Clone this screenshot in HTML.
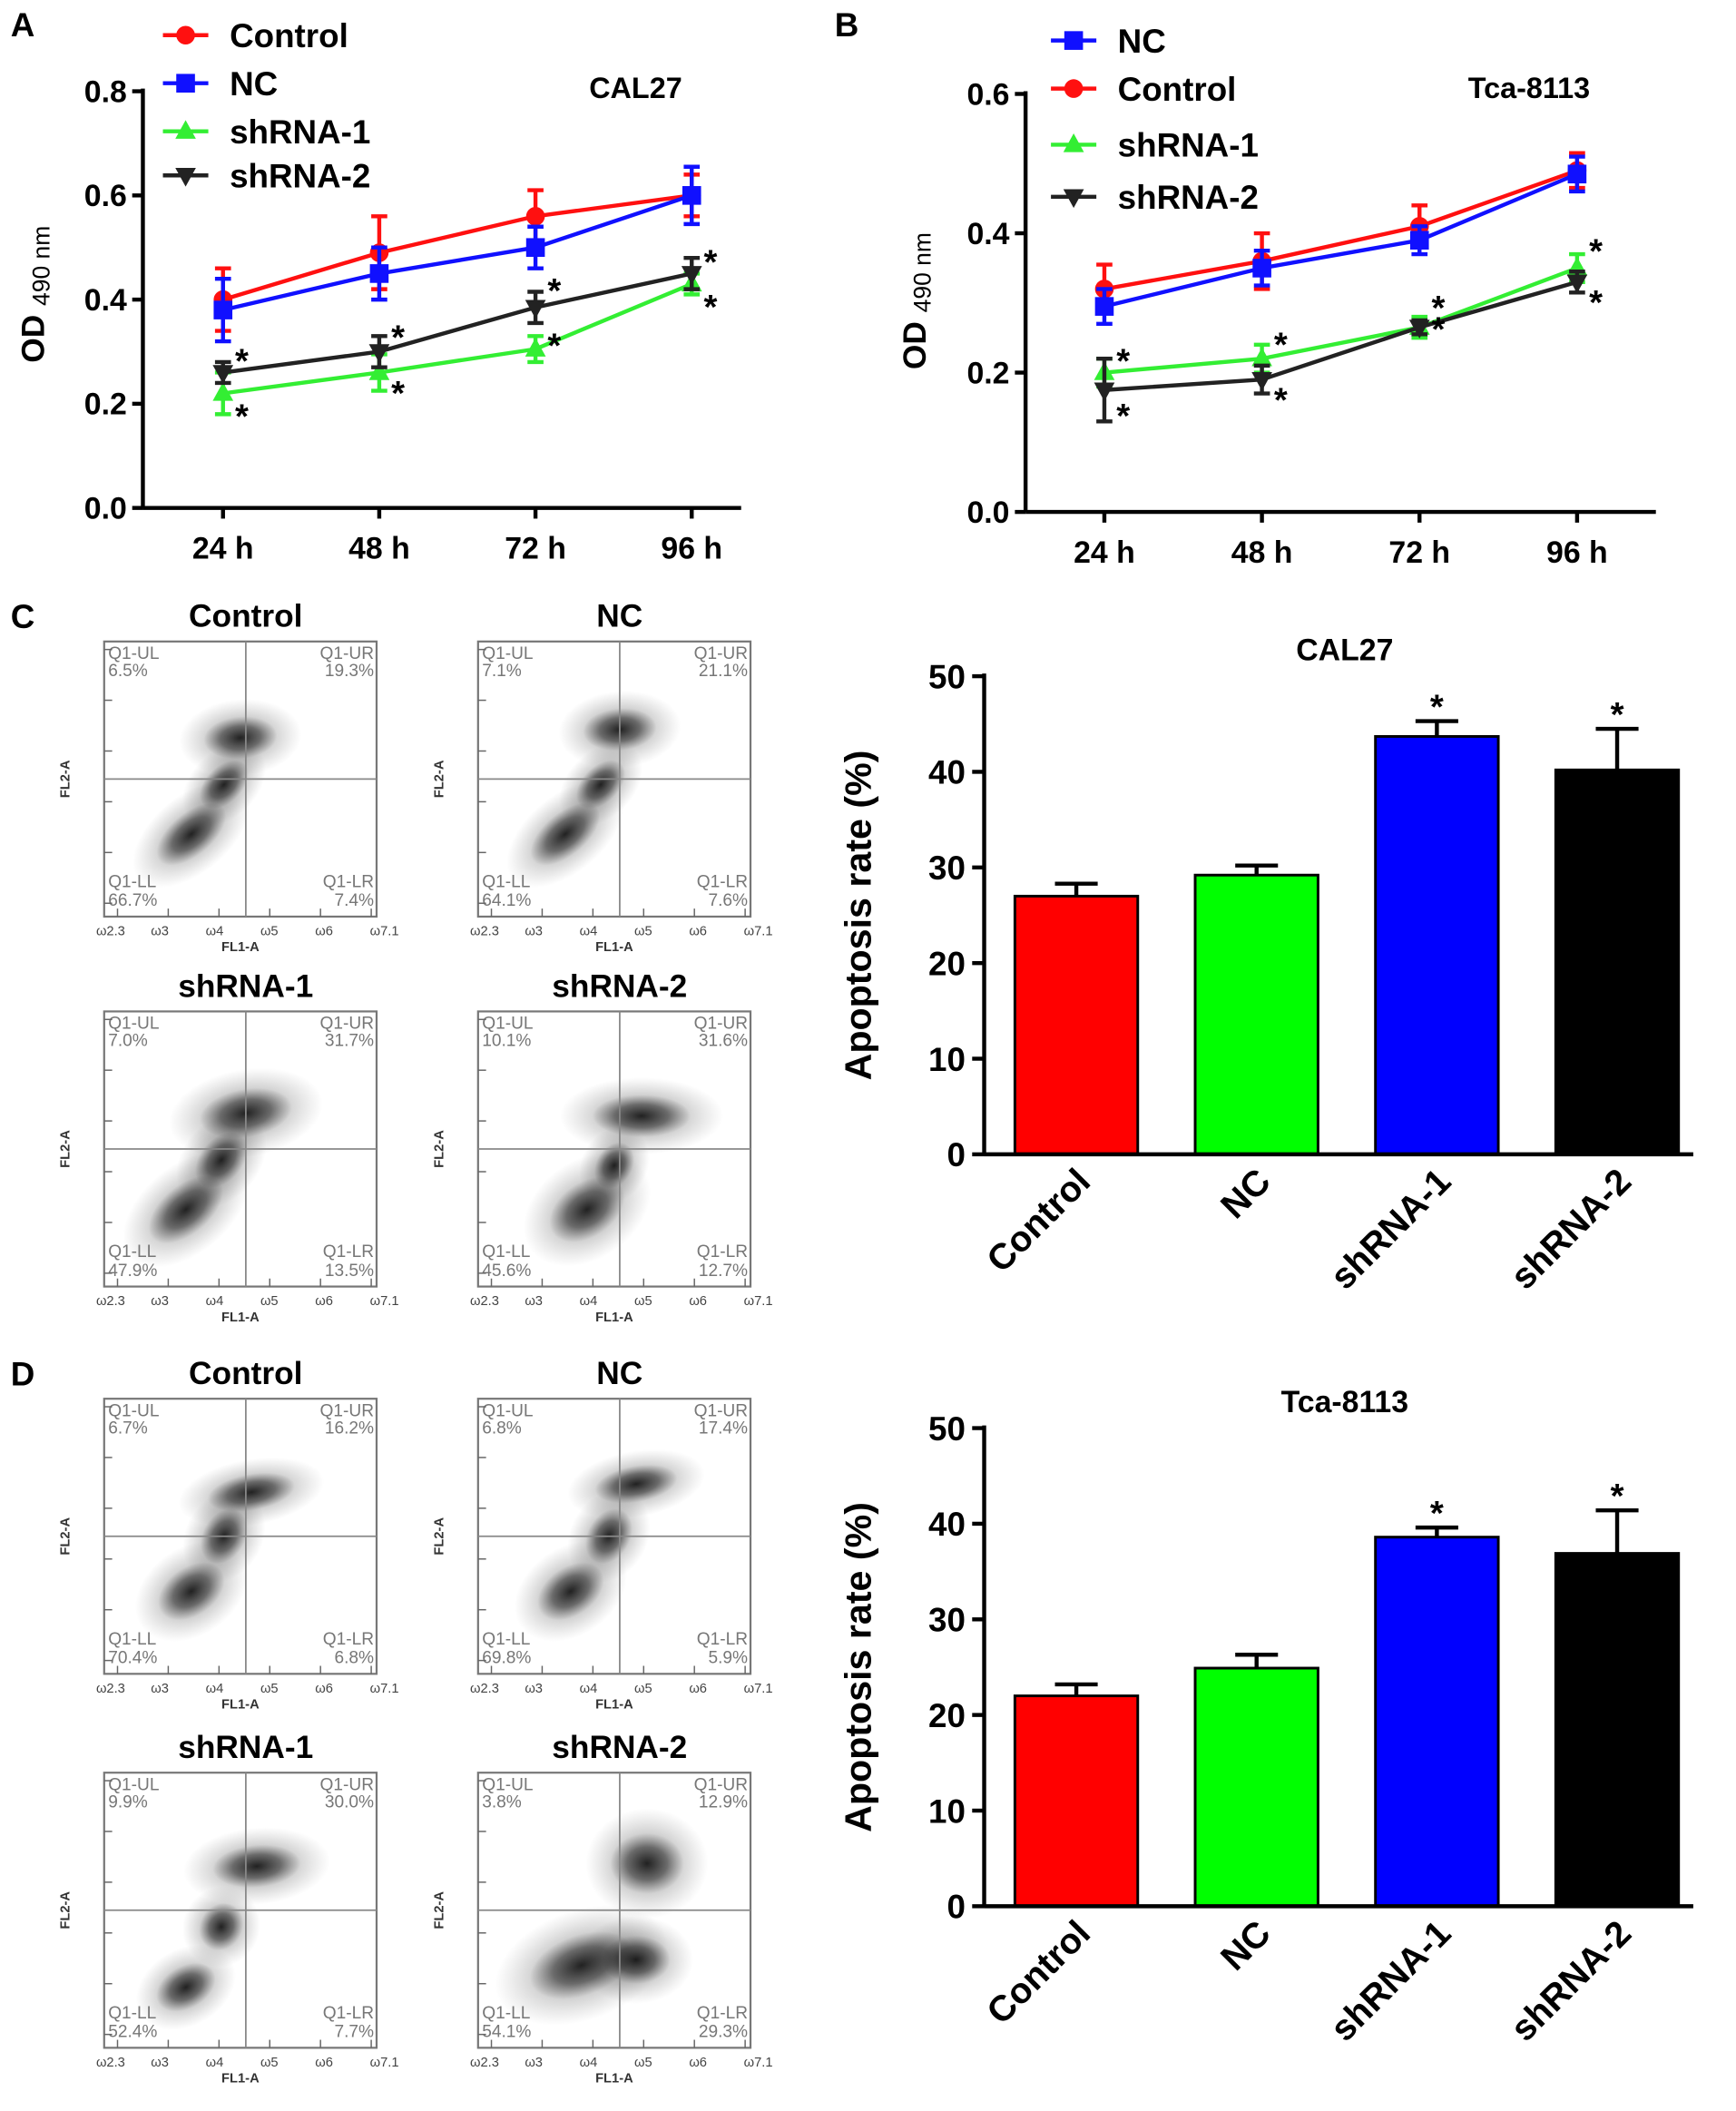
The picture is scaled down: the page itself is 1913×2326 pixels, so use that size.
<!DOCTYPE html>
<html><head><meta charset="utf-8"><style>
html,body{margin:0;padding:0;background:#fff}
svg{display:block}
text{font-family:"Liberation Sans",Arial,sans-serif;font-weight:bold}
</style></head><body>
<svg id="fig" width="1913" height="2326" viewBox="0 0 1300 1580" xmlns="http://www.w3.org/2000/svg">
<rect width="1300" height="1580" fill="#fff"/>
</svg>
<script>
// ---------- DATA ----------
const timeCats = ["24 h","48 h","72 h","96 h"];
const aSeriesNames = ["Control","NC","shRNA-1","shRNA-2"];
const aControl = [0.40,0.49,0.56,0.60];
const aControlErr = [0.06,0.07,0.05,0.04];
const aNC = [0.38,0.45,0.50,0.60];
const aNCErr = [0.06,0.05,0.04,0.055];
const aSh1 = [0.22,0.26,0.305,0.43];
const aSh1Err = [0.04,0.035,0.025,0.02];
const aSh2 = [0.26,0.30,0.385,0.45];
const aSh2Err = [0.02,0.03,0.03,0.03];
const aTicks = [0.0,0.2,0.4,0.6,0.8];

const bSeriesNames = ["NC","Control","shRNA-1","shRNA-2"];
const bNC = [0.295,0.35,0.39,0.485];
const bNCErr = [0.025,0.025,0.02,0.025];
const bControl = [0.32,0.36,0.41,0.49];
const bControlErr = [0.035,0.04,0.03,0.025];
const bSh1 = [0.20,0.22,0.265,0.35];
const bSh1Err = [0.02,0.02,0.015,0.02];
const bSh2 = [0.175,0.19,0.265,0.33];
const bSh2Err = [0.045,0.02,0.01,0.015];
const bTicks = [0.0,0.2,0.4,0.6];

const barCats = ["Control","NC","shRNA-1","shRNA-2"];
const cValues = [27.0,29.2,43.7,40.2];
const cErrs = [1.3,1.0,1.6,4.3];
const dValues = [22.0,24.9,38.6,36.9];
const dErrs = [1.2,1.4,1.0,4.5];
const barTicks = [0,10,20,30,40,50];

const flowC = [["Control","6.5%","19.3%","66.7%","7.4%"],["NC","7.1%","21.1%","64.1%","7.6%"],["shRNA-1","7.0%","31.7%","47.9%","13.5%"],["shRNA-2","10.1%","31.6%","45.6%","12.7%"]];
const flowD = [["Control","6.7%","16.2%","70.4%","6.8%"],["NC","6.8%","17.4%","69.8%","5.9%"],["shRNA-1","9.9%","30.0%","52.4%","7.7%"],["shRNA-2","3.8%","12.9%","54.1%","29.3%"]];

// ---------- HELPERS ----------
const NS="http://www.w3.org/2000/svg";
const svg=document.getElementById('fig');
function mk(tag,attrs,parent){const e=document.createElementNS(NS,tag);for(const k in attrs)e.setAttribute(k,attrs[k]);(parent||svg).appendChild(e);return e;}
function txt(s,attrs,parent){const e=mk('text',attrs,parent);e.textContent=s;return e;}
const colors={"Control":"#ff1010","NC":"#1010ff","shRNA-1":"#33ee33","shRNA-2":"#222"};

function marker(g,name,x,y,s){
  const c=colors[name];let m;
  if(name==="Control") m=mk('circle',{cx:x,cy:y,r:s,fill:c},g);
  else if(name==="NC") m=mk('rect',{x:x-s,y:y-s,width:2*s,height:2*s,fill:c},g);
  else if(name==="shRNA-1") m=mk('polygon',{points:`${x},${y-s*1.2} ${x-s*1.1},${y+s*0.8} ${x+s*1.1},${y+s*0.8}`,fill:c},g);
  else m=mk('polygon',{points:`${x},${y+s*1.2} ${x-s*1.1},${y-s*0.8} ${x+s*1.1},${y-s*0.8}`,fill:c},g);
  return m;
}

function lineChart(o){
  const g=mk('g',{});
  
  
  const y=v=>o.y0-(v/o.ymax)*(o.y0-o.y1);
  const x=i=>o.xs[0]+i*(o.xs[1]-o.xs[0]);
  mk('line',{x1:o.ax,y1:o.y1-2,x2:o.ax,y2:o.y0,stroke:'#000','stroke-width':3},g);
  mk('line',{x1:o.ax,y1:o.y0,x2:o.xend,y2:o.y0,stroke:'#000','stroke-width':3},g);
  o.ticks.forEach(t=>{
    mk('line',{x1:o.ax-8,y1:y(t),x2:o.ax,y2:y(t),stroke:'#000','stroke-width':3},g);
    const l=txt(t.toFixed(1),{x:o.ax-12,y:y(t)+8,'font-size':23,'text-anchor':'end'},g);
    
  });
  timeCats.forEach((c,i)=>{
    mk('line',{x1:x(i),y1:o.y0,x2:x(i),y2:o.y0+8,stroke:'#000','stroke-width':3},g);
    const l=txt(c,{x:x(i),y:o.y0+38,'font-size':23,'text-anchor':'middle'},g);
    
  });
  const t=txt('OD ',{x:0,y:0,'font-size':24,transform:`translate(${o.ytx},${o.yty}) rotate(-90)`,'text-anchor':'middle'},g);
  const ts=mk('tspan',{'font-size':18,'font-weight':'normal',dy:4},t);ts.textContent='490 nm';
  
  const tt=txt(o.title,{x:o.tx,y:o.ty,'font-size':22,'text-anchor':'middle'},g);
  
  o.series.forEach(s=>{
    const c=colors[s.name];
    const sg=mk('g',{},g);
    
    
    mk('polyline',{points:s.v.map((v,i)=>`${x(i)},${y(v)}`).join(' '),fill:'none',stroke:c,'stroke-width':3},sg);
    s.v.forEach((v,i)=>{
      const e=s.e[i];
      mk('line',{x1:x(i),y1:y(v+e),x2:x(i),y2:y(v-e),stroke:c,'stroke-width':3},sg);
      mk('line',{x1:x(i)-6,y1:y(v+e),x2:x(i)+6,y2:y(v+e),stroke:c,'stroke-width':3},sg);
      mk('line',{x1:x(i)-6,y1:y(v-e),x2:x(i)+6,y2:y(v-e),stroke:c,'stroke-width':3},sg);
      const m=marker(sg,s.name,x(i),y(v),7);
      
      if(s.star){const st=txt('*',{x:x(i)+9,y:y(v)+s.star[i]+14,'font-size':26},sg);
        }
    });
  });
  o.legend.forEach((n,i)=>{
    const lg=mk('g',{},g);
    
    const ly=o.ly[i];
    mk('line',{x1:o.lx,y1:ly,x2:o.lx+34,y2:ly,stroke:colors[n],'stroke-width':3},lg);
    marker(lg,n,o.lx+17,ly,7);
    txt(n,{x:o.lx+50,y:ly+9,'font-size':25},lg);
  });
}

lineChart({name:'panel-a-chart',ax:107,xend:555,y0:380,y1:68,ymax:0.8,xs:[167,284],ticks:aTicks,ytx:33,yty:220,title:'CAL27',tx:476,ty:73,
  series:[{name:'Control',v:aControl,e:aControlErr},{name:'NC',v:aNC,e:aNCErr},
    {name:'shRNA-1',v:aSh1,e:aSh1Err,star:[12,10,-8,12]},{name:'shRNA-2',v:aSh2,e:aSh2Err,star:[-14,-16,-18,-14]}],
  legend:aSeriesNames,lx:122,ly:[26,62,98,131]});
lineChart({name:'panel-b-chart',ax:768,xend:1240,y0:383,y1:70,ymax:0.6,xs:[827,945],ticks:bTicks,ytx:693,yty:225,title:'Tca-8113',tx:1145,ty:73,
  series:[{name:'Control',v:bControl,e:bControlErr},{name:'NC',v:bNC,e:bNCErr},
    {name:'shRNA-1',v:bSh1,e:bSh1Err,star:[-14,-16,-20,-18]},{name:'shRNA-2',v:bSh2,e:bSh2Err,star:[14,10,-4,10]}],
  legend:bSeriesNames,lx:787,ly:[30,66,108,147]});

function barChart(o){
  const g=mk('g',{});
  
  const y=v=>o.y0-(v/50)*(o.y0-o.y1);
  const fills=["#ff0000","#00ff00","#0000ff","#000000"];
  o.vals.forEach((v,i)=>{
    const cx=o.x0+i*o.step, w=92;
    const eb=mk('g',{},g);
    mk('line',{x1:cx,y1:y(v),x2:cx,y2:y(v+o.errs[i]),stroke:'#000','stroke-width':3},eb);
    mk('line',{x1:cx-16,y1:y(v+o.errs[i]),x2:cx+16,y2:y(v+o.errs[i]),stroke:'#000','stroke-width':3},eb);
    const b=mk('rect',{x:cx-w/2,y:y(v),width:w,height:o.y0-y(v),fill:fills[i],stroke:'#000','stroke-width':2},g);
    
    if(i>=2){const st=txt('*',{x:cx,y:y(v+o.errs[i])-2,'font-size':26,'text-anchor':'middle'},g);
      }
    const l=txt(barCats[i],{x:0,y:0,'font-size':27,'text-anchor':'end',transform:`translate(${cx+12},${o.y0+22}) rotate(-45)`},g);
    
  });
  mk('line',{x1:o.ax,y1:o.y1-2,x2:o.ax,y2:o.y0,stroke:'#000','stroke-width':3},g);
  mk('line',{x1:o.ax,y1:o.y0,x2:1268,y2:o.y0,stroke:'#000','stroke-width':3},g);
  barTicks.forEach(t=>{
    mk('line',{x1:o.ax-9,y1:y(t),x2:o.ax,y2:y(t),stroke:'#000','stroke-width':3},g);
    const l=txt(String(t),{x:o.ax-14,y:y(t)+9,'font-size':25,'text-anchor':'end'},g);
    
  });
  const yt=txt('Apoptosis rate (%)',{x:0,y:0,'font-size':28,'text-anchor':'middle',transform:`translate(${o.ax-85},${(o.y0+o.y1)/2}) rotate(-90)`},g);
  
  const tt=txt(o.title,{x:1007,y:o.y1-12,'font-size':23,'text-anchor':'middle'},g);
  
}
barChart({name:'panel-c-bar-chart',ax:737,y0:864,y1:506,x0:806,step:135,vals:cValues,errs:cErrs,title:'CAL27'});
barChart({name:'panel-d-bar-chart',ax:737,y0:1427,y1:1069,x0:806,step:135,vals:dValues,errs:dErrs,title:'Tca-8113'});

// ---------- FLOW PLOTS ----------
const defs=mk('defs',{});
const rg=mk('radialGradient',{id:'blob'},defs);
mk('stop',{offset:'0%','stop-color':'#000','stop-opacity':'0.9'},rg);
mk('stop',{offset:'55%','stop-color':'#111','stop-opacity':'0.55'},rg);
mk('stop',{offset:'100%','stop-color':'#333','stop-opacity':'0'},rg);
const blobsC=[
 [[[.32,.70,.17,.07,-40],[.50,.35,.15,.07,-5],[.44,.52,.12,.06,-45]]],
 [[[.32,.70,.17,.07,-40],[.52,.32,.15,.07,-5],[.45,.52,.12,.06,-45]]],
 [[[.30,.72,.18,.08,-40],[.52,.37,.19,.08,-10],[.43,.54,.13,.07,-50]]],
 [[[.40,.72,.17,.09,-35],[.60,.38,.20,.07,0],[.50,.56,.10,.06,-60]]]];
const blobsD=[
 [[[.32,.70,.15,.08,-35],[.54,.34,.18,.06,-10],[.44,.50,.12,.07,-60]]],
 [[[.34,.70,.15,.08,-35],[.58,.31,.17,.06,-10],[.48,.50,.12,.07,-60]]],
 [[[.30,.78,.13,.07,-30],[.56,.34,.18,.07,-5],[.43,.56,.10,.07,-60]]],
 [[[.38,.70,.22,.10,-20],[.62,.33,.15,.10,0],[.58,.68,.14,.08,0]]]];

function flowPlot(x,y,d,blobs,id){
  const w=204,h=206;
  const g=mk('g',{});
  
  const t=txt(d[0],{x:x+w/2+4,y:y-11,'font-size':24,'text-anchor':'middle'},g);
  
  blobs[0].forEach(b=>{
    const cx=x+b[0]*w, cy=y+b[1]*h;
    mk('ellipse',{cx:cx,cy:cy,rx:b[2]*w*1.5,ry:b[3]*h*2.0,fill:'url(#blob)',opacity:0.35,transform:`rotate(${b[4]} ${cx} ${cy})`},g);
    mk('ellipse',{cx:cx,cy:cy,rx:b[2]*w*0.9,ry:b[3]*h*1.1,fill:'url(#blob)',opacity:0.9,transform:`rotate(${b[4]} ${cx} ${cy})`},g);
  });
  mk('rect',{x:x,y:y,width:w,height:h,fill:'none',stroke:'#777','stroke-width':1.5},g);
  mk('line',{x1:x+w*0.52,y1:y,x2:x+w*0.52,y2:y+h,stroke:'#888','stroke-width':1.2},g);
  mk('line',{x1:x,y1:y+h*0.5,x2:x+w,y2:y+h*0.5,stroke:'#888','stroke-width':1.2},g);
  const q=(s,xx,yy,a)=>{const e=txt(s,{x:xx,y:yy,'font-size':13,fill:'#777','text-anchor':a},g);e.style.fontWeight='normal';return e;};
  q('Q1-UL',x+3,y+13,'start');q(d[1],x+3,y+26,'start');
  q('Q1-UR',x+w-2,y+13,'end');q(d[2],x+w-2,y+26,'end');
  q('Q1-LL',x+3,y+h-22,'start');q(d[3],x+3,y+h-8,'start');
  q('Q1-LR',x+w-2,y+h-22,'end');q(d[4],x+w-2,y+h-8,'end');
  for(let i=0;i<6;i++){mk('line',{x1:x+10+i*38,y1:y+h,x2:x+10+i*38,y2:y+h-6,stroke:'#666','stroke-width':1},g);}
  for(let i=0;i<6;i++){mk('line',{x1:x,y1:y+h-10-i*38,x2:x+6,y2:y+h-10-i*38,stroke:'#666','stroke-width':1},g);}
  ['2.3','3','4','5','6','7.1'].forEach((s,i)=>{const e=txt('\u03c9'+s,{x:x-6+i*41,y:y+h+14,'font-size':10,fill:'#444'},g);e.style.fontWeight='normal';});
  const xl=txt('FL1-A',{x:x+w/2,y:y+h+26,'font-size':10,'text-anchor':'middle',fill:'#333'},g);
  
  const yl=txt('FL2-A',{x:0,y:0,'font-size':10,'text-anchor':'middle',fill:'#333',transform:`translate(${x-26},${y+h/2}) rotate(-90)`},g);
  
}
flowPlot(78,480,flowC[0],blobsC[0],'c-control');
flowPlot(358,480,flowC[1],blobsC[1],'c-nc');
flowPlot(78,757,flowC[2],blobsC[2],'c-shrna-1');
flowPlot(358,757,flowC[3],blobsC[3],'c-shrna-2');
flowPlot(78,1047,flowD[0],blobsD[0],'d-control');
flowPlot(358,1047,flowD[1],blobsD[1],'d-nc');
flowPlot(78,1327,flowD[2],blobsD[2],'d-shrna-1');
flowPlot(358,1327,flowD[3],blobsD[3],'d-shrna-2');

[['A',8,27],['B',625,27],['C',8,470],['D',8,1037]].forEach(p=>{
  const e=txt(p[0],{x:p[1],y:p[2],'font-size':25});
  
  
});
</script>
</body></html>
